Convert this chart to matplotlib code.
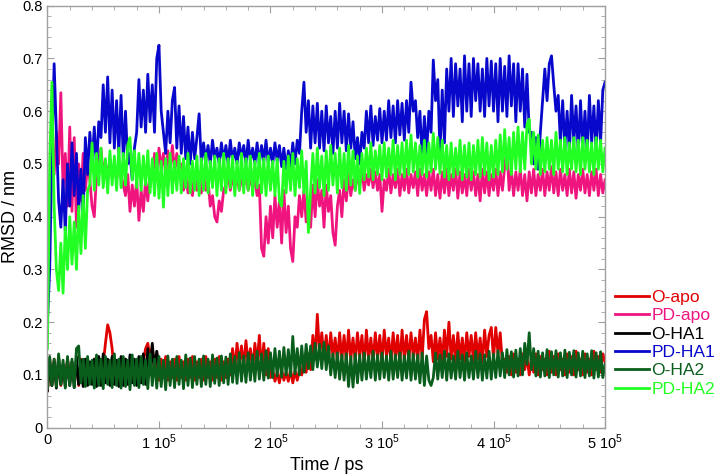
import numpy as np
import matplotlib
matplotlib.use("Agg")
import matplotlib.pyplot as plt
from matplotlib.ticker import MultipleLocator, FuncFormatter

plt.rcParams['font.family'] = ['Liberation Sans', 'DejaVu Sans']
plt.rcParams['mathtext.fontset'] = 'custom'
plt.rcParams['mathtext.rm'] = 'Liberation Sans'

# sampling interval of the trajectories (ps)
dt = 2000

# RMSD values in units of 0.001 nm, one value every dt ps
o_apo = [
    70, 120, 80, 130, 85, 125, 80, 120, 90, 130,
    85, 125, 90, 120, 80, 130, 90, 125, 85, 120,
    90, 130, 85, 125, 90, 120, 160, 195, 180, 150,
    100, 125, 85, 120, 90, 130, 85, 125, 90, 120,
    85, 130, 95, 125, 150, 160, 130, 155, 100, 125,
    90, 130, 95, 135, 90, 125, 95, 130, 90, 135,
    95, 125, 90, 130, 95, 135, 90, 125, 95, 130,
    90, 135, 95, 125, 90, 130, 95, 135, 90, 125,
    95, 130, 100, 150, 110, 160, 120, 155, 115, 165,
    120, 150, 110, 160, 120, 175, 110, 160, 100, 150,
    95, 110, 88, 105, 85, 110, 90, 105, 88, 110,
    85, 108, 90, 110, 100, 135, 105, 140, 110, 175,
    130, 215, 140, 180, 130, 175, 125, 180, 135, 170,
    125, 180, 130, 175, 125, 185, 130, 170, 125, 180,
    135, 175, 120, 185, 130, 170, 125, 180, 130, 175,
    125, 185, 135, 170, 125, 180, 130, 175, 120, 185,
    130, 175, 125, 180, 135, 170, 125, 185, 130, 205,
    220, 150, 175, 125, 180, 130, 170, 125, 185, 135,
    200, 130, 175, 125, 180, 130, 170, 125, 180, 135,
    175, 125, 180, 130, 170, 125, 185, 135, 175, 190,
    130, 190, 140, 180, 120, 130, 105, 135, 100, 140,
    105, 130, 100, 140, 110, 135, 100, 130, 105, 140,
    100, 135, 110, 130, 100, 145, 105, 135, 100, 140,
    110, 130, 100, 140, 105, 135, 100, 145, 110, 130,
    100, 140, 105, 130, 100, 145, 110, 135, 105, 140,
    125]

pd_apo = [
    400, 450, 520, 480, 560, 500, 635, 450, 520, 420,
    570, 410, 550, 380, 500, 430, 520, 450, 500, 470,
    420, 400, 480, 510, 530, 480, 505, 470, 510, 480,
    500, 470, 505, 480, 460, 440, 480, 410, 460, 420,
    470, 393, 450, 410, 470, 430, 480, 470, 520, 480,
    530, 490, 520, 480, 525, 490, 535, 485, 520, 480,
    500, 450, 480, 445, 475, 440, 480, 450, 470, 445,
    480, 450, 470, 420, 440, 400, 390, 430, 410, 450,
    460, 480, 450, 475, 455, 480, 450, 470, 460, 480,
    450, 475, 455, 470, 440, 460, 340, 325, 400, 350,
    420, 360, 440, 380, 430, 350, 450, 370, 420, 340,
    315, 400, 380, 440, 400, 450, 390, 430, 380, 460,
    400, 470, 420, 450, 380, 460, 410, 440, 370, 346,
    420, 450, 400, 470, 430, 480, 440, 470, 450, 480,
    460, 490, 450, 480, 460, 490, 455, 485, 450, 480,
    410, 470, 450, 490, 445, 480, 455, 490, 440, 480,
    450, 490, 445, 480, 455, 485, 440, 490, 450, 480,
    440, 485, 450, 490, 440, 480, 435, 485, 445, 490,
    440, 480, 450, 490, 435, 485, 445, 480, 440, 490,
    450, 485, 440, 480, 430, 490, 445, 485, 440, 480,
    450, 490, 440, 485, 450, 495, 530, 450, 490, 440,
    485, 450, 490, 440, 480, 430, 485, 445, 490, 440,
    480, 450, 490, 440, 485, 450, 495, 445, 485, 440,
    490, 450, 480, 440, 490, 445, 485, 435, 480, 450,
    490, 445, 480, 440, 485, 450, 490, 440, 480, 445,
    470]

o_ha1 = [
    70, 130, 80, 125, 75, 135, 82, 120, 78, 130,
    80, 125, 76, 135, 82, 128, 78, 130, 80, 125,
    82, 130, 78, 135, 80, 140, 85, 130, 80, 135,
    82, 128, 78, 135, 80, 130, 82, 138, 85, 130,
    80, 135, 85, 140, 82, 150, 100, 160, 110, 145,
    120]

pd_ha1 = [
    200, 300, 520, 690, 560, 430, 380, 470, 370, 500,
    420, 540, 440, 520, 410, 490, 400, 550, 480, 560,
    500, 570, 490, 580, 550, 650, 560, 665, 540, 640,
    530, 620, 520, 630, 510, 600, 500, 520, 470, 530,
    560, 660, 570, 640, 560, 670, 580, 650, 560, 700,
    725, 600, 560, 520, 600, 540, 620, 645, 530, 610,
    520, 590, 510, 570, 500, 560, 510, 550, 595, 500,
    540, 505, 535, 500, 545, 510, 530, 500, 540, 505,
    535, 500, 545, 505, 530, 500, 540, 510, 535, 500,
    545, 505, 530, 500, 540, 500, 535, 505, 545, 500,
    530, 500, 540, 505, 535, 495, 530, 490, 525, 495,
    540, 500, 545, 520, 600, 655, 560, 620, 530, 610,
    540, 615, 530, 600, 525, 610, 540, 590, 520, 600,
    530, 615, 540, 600, 525, 595, 530, 580, 510, 550,
    500, 560, 530, 600, 540, 610, 535, 590, 545, 605,
    540, 600, 545, 620, 550, 610, 540, 620, 555, 615,
    545, 620, 560, 655, 600, 620, 550, 600, 510, 590,
    520, 600, 560, 697, 620, 660, 520, 640, 540, 680,
    600, 700, 590, 690, 610, 680, 580, 705, 600, 690,
    590, 700, 620, 690, 600, 680, 590, 700, 610, 695,
    600, 690, 580, 700, 600, 685, 590, 705, 610, 690,
    580, 690, 600, 680, 570, 670, 560, 560, 500, 550,
    490, 560, 620, 680, 620, 690, 705, 650, 600, 630,
    540, 620, 530, 600, 520, 630, 540, 610, 520, 620,
    530, 600, 520, 630, 540, 610, 525, 620, 540, 640,
    655]

o_ha2 = [
    75, 135, 80, 130, 78, 140, 82, 128, 75, 135,
    80, 130, 76, 150, 155, 85, 130, 78, 135, 82,
    128, 75, 138, 80, 130, 74, 135, 82, 128, 76,
    140, 80, 130, 75, 135, 78, 128, 72, 138, 80,
    130, 76, 135, 82, 128, 74, 140, 80, 130, 75,
    135, 78, 128, 72, 136, 80, 130, 76, 135, 82,
    128, 74, 138, 80, 132, 76, 135, 82, 130, 78,
    136, 82, 130, 78, 138, 84, 132, 80, 136, 85,
    134, 82, 140, 86, 135, 84, 142, 88, 136, 86,
    142, 90, 138, 88, 145, 92, 140, 90, 146, 94,
    142, 95, 150, 98, 145, 96, 152, 100, 148, 98,
    173, 102, 150, 100, 155, 105, 158, 112, 155, 110,
    160, 115, 158, 112, 162, 110, 155, 100, 140, 95,
    142, 92, 138, 90, 140, 78, 135, 77, 140, 85,
    138, 90, 142, 92, 136, 95, 145, 90, 138, 92,
    142, 95, 136, 90, 145, 92, 138, 95, 142, 90,
    136, 94, 145, 90, 140, 92, 138, 85, 142, 80,
    136, 90, 80, 95, 142, 92, 138, 95, 145, 90,
    140, 94, 136, 92, 145, 95, 138, 90, 142, 95,
    136, 92, 145, 95, 140, 90, 138, 94, 145, 92,
    140, 95, 146, 98, 142, 95, 148, 100, 144, 96,
    147, 98, 150, 100, 160, 120, 180, 110, 150, 98,
    145, 96, 142, 98, 148, 95, 144, 100, 146, 96,
    142, 98, 147, 95, 143, 100, 146, 96, 142, 98,
    145, 95, 140, 98, 146, 94, 142, 96, 144, 95,
    120]

pd_ha2 = [
    150, 500, 655, 420, 300, 260, 350, 255, 380, 300,
    400, 310, 390, 300, 420, 330, 440, 340, 450, 460,
    540, 450, 520, 460, 530, 455, 510, 445, 525, 460,
    515, 450, 530, 455, 520, 460, 535, 550, 470, 525,
    455, 520, 450, 515, 460, 525, 445, 510, 440, 520,
    435, 505, 418, 510, 440, 520, 445, 505, 450, 515,
    445, 510, 455, 520, 445, 505, 450, 515, 440, 510,
    450, 520, 445, 505, 455, 515, 440, 510, 450, 520,
    445, 510, 455, 515, 440, 505, 450, 520, 445, 510,
    450, 515, 440, 505, 455, 520, 445, 510, 440, 515,
    450, 505, 440, 510, 430, 420, 505, 445, 515, 450,
    520, 440, 510, 455, 525, 445, 505, 370, 450, 520,
    445, 530, 455, 515, 440, 525, 450, 535, 460, 520,
    445, 530, 455, 520, 450, 535, 460, 525, 450, 515,
    444, 520, 470, 530, 475, 540, 470, 525, 480, 535,
    470, 540, 475, 530, 480, 545, 470, 535, 480, 540,
    475, 545, 480, 555, 485, 540, 475, 535, 480, 545,
    475, 540, 485, 558, 490, 550, 482, 545, 475, 535,
    470, 540, 475, 530, 480, 545, 470, 535, 475, 540,
    470, 535, 480, 545, 475, 550, 480, 540, 470, 535,
    475, 545, 480, 555, 485, 565, 490, 550, 480, 560,
    490, 570, 485, 560, 490, 575, 585, 500, 560, 490,
    555, 480, 545, 485, 550, 490, 545, 480, 560, 490,
    545, 485, 550, 480, 540, 490, 550, 485, 545, 480,
    550, 490, 545, 485, 540, 480, 550, 490, 545, 485,
    530]

labels = ['O-apo', 'PD-apo', 'O-HA1', 'PD-HA1', 'O-HA2', 'PD-HA2']
series = [o_apo, pd_apo, o_ha1, pd_ha1, o_ha2, pd_ha2]
colors = ['#e00000', '#f0147f', '#000000', '#0808cc', '#0a5e1c', '#22ff22']

fig = plt.figure(figsize=(7.19, 4.75), dpi=100)
ax = fig.add_axes([0.066, 0.0996, 0.7755, 0.8884])

for lab, vals, col in zip(labels, series, colors):
    v = np.array(vals) / 1000.0
    t = np.arange(len(v)) * dt
    ax.plot(t, v, color=col, lw=2.0, label=lab)

ax.set_xlim(0, 5e5)
ax.set_ylim(0, 0.8)
ax.xaxis.set_major_locator(MultipleLocator(1e5))
ax.xaxis.set_minor_locator(MultipleLocator(2e4))
ax.yaxis.set_major_locator(MultipleLocator(0.1))
ax.yaxis.set_minor_locator(MultipleLocator(0.02))


def xfmt(v, pos):
    n = int(round(v / 1e5))
    if n == 0:
        return '0'
    return r'%d 10$^{5}$' % n


def yfmt(v, pos):
    if abs(v) < 1e-9:
        return '0'
    return '%g' % round(v, 2)


ax.xaxis.set_major_formatter(FuncFormatter(xfmt))
ax.yaxis.set_major_formatter(FuncFormatter(yfmt))

frame_col = '#a0a0a0'
for sp in ax.spines.values():
    sp.set_color(frame_col)
    sp.set_linewidth(1.0)
ax.tick_params(which='both', direction='in', top=True, right=True,
               color=frame_col, labelsize=10.5, labelcolor='black')
ax.tick_params(which='major', length=5)
ax.tick_params(which='minor', length=3)

ax.set_xlabel('Time / ps', fontsize=13, labelpad=4)
ax.set_ylabel('RMSD / nm', fontsize=13, labelpad=2)

leg = fig.legend(loc='upper left', bbox_to_anchor=(0.846, 0.405),
                 frameon=False, fontsize=12.6, handlelength=1.9,
                 handletextpad=0.15, labelspacing=0.18, borderaxespad=0)
for txt, col in zip(leg.get_texts(), colors):
    txt.set_color(col)

fig.savefig('out.png', dpi=100)
